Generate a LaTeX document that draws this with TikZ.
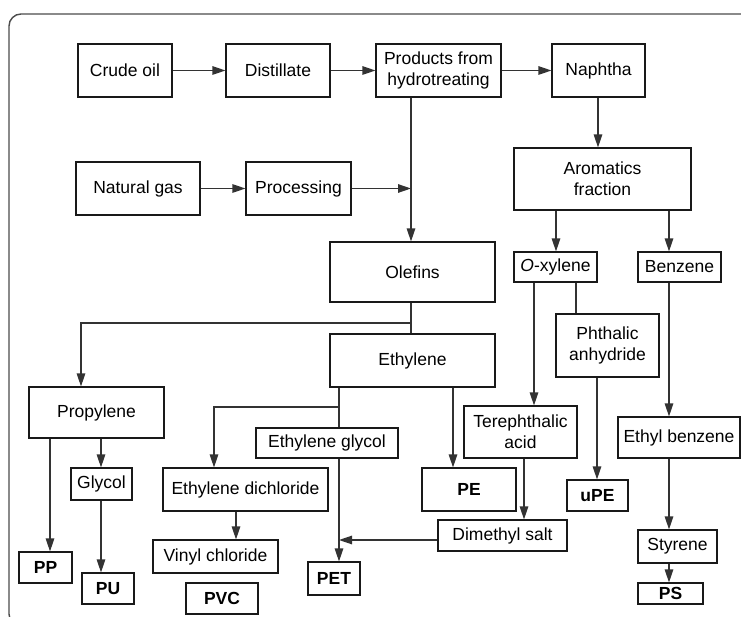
\documentclass[tikz,border=0pt]{standalone}
\usepackage{fontspec}
\setmainfont{Liberation Sans}
\usetikzlibrary{arrows.meta}
\tikzset{
  box/.style={draw=black!90, line width=1.1pt, inner sep=0pt, align=center,
    font=\fontsize{17.5}{21}\selectfont},
  link/.style={draw=black!80, line width=1.3pt},
  arr/.style={link, -{Triangle[length=13pt,width=8.5pt]}},
  frame/.style={draw=black!70, line width=1.4pt, rounded corners=12pt}
}
\newcommand\bx[6]{\node[box, minimum width={#4-#2}, minimum height={#5-#3}] (#1) at ({(#2+#4)/2},{(#3+#5)/2}) {#6};}
\begin{document}
\begin{tikzpicture}[x=1pt,y=-1pt]
\useasboundingbox (0,0) rectangle (741,617);
\clip (0,0) rectangle (741,617);
\draw[frame] (745,14) -- (9,14) -- (9,626) -- (40,626);
% nodes
\bx{crude}{78}{44}{172}{97}{Crude oil}
\bx{dist}{226}{44}{330}{97}{Distillate}
\bx{prod}{376}{44}{501}{97}{Products from\\hydrotreating}
\bx{naph}{552}{44}{645}{97}{Naphtha}
\bx{natg}{76}{162}{200}{215}{Natural gas}
\bx{proc}{246}{162}{351}{215}{Processing}
\bx{arom}{514}{148}{691}{210}{Aromatics\\fraction}
\bx{olef}{330}{242}{495}{302}{Olefins}
\bx{oxyl}{514}{252}{597}{282}{\textit{O}-xylene}
\bx{benz}{638}{252}{721}{282}{Benzene}
\bx{phth}{556}{314}{659}{377}{Phthalic\\anhydride}
\bx{eth}{330}{334}{495}{387}{Ethylene}
\bx{prop}{29}{387}{164}{438}{Propylene}
\bx{tere}{464}{406}{577}{458}{Terephthalic\\acid}
\bx{ebz}{618}{417}{740}{458}{Ethyl benzene}
\bx{eglyc}{256}{428}{398}{458}{Ethylene glycol}
\bx{glyc}{71}{468}{132}{500}{Glycol}
\bx{edc}{163}{468}{328}{511}{Ethylene dichloride}
\bx{pe}{422}{468}{516}{511}{\bfseries PE}
\bx{upe}{567}{480}{628}{511}{\bfseries uPE}
\bx{dms}{438}{520}{567}{551}{Dimethyl salt}
\bx{sty}{638}{530}{717}{563}{Styrene}
\bx{vinyl}{153}{540}{278}{573}{Vinyl chloride}
\bx{pp}{19}{552}{72}{583}{\bfseries PP}
\bx{pet}{308}{562}{360}{595}{\bfseries PET}
\bx{pu}{82}{573}{134}{604}{\bfseries PU}
\bx{pvc}{186}{583}{258}{614}{\bfseries PVC}
\bx{ps}{638}{583}{703}{604}{\bfseries PS}
% columns and rows
\coordinate (xO) at (411,0);
\coordinate (xP) at (81,0);
\coordinate (xE) at (339,0);
\coordinate (xD) at (214,0);
\coordinate (xPE) at (453,0);
\coordinate (xT) at (534,0);
\coordinate (xPh) at (576,0);
\coordinate (xDm) at (524,0);
\coordinate (xV) at (236,0);
\coordinate (xB) at (669,0);
\coordinate (xA) at (556,0);
\coordinate (xN) at (598,0);
\coordinate (xU) at (597,0);
\coordinate (xG) at (101,0);
\coordinate (xPP) at (50,0);
\coordinate (yJ) at (0,323);
\coordinate (yE) at (0,407);
\coordinate (yM) at (0,540);
% connectors
\draw[arr] (crude.east) -- (dist.west);
\draw[arr] (dist.east) -- (prod.west);
\draw[arr] (prod.east) -- (naph.west);
\draw[arr] (natg.east) -- (proc.west);
\draw[arr] (naph.south -| xN) -- (arom.north -| xN);
\draw[arr] (prod.south -| xO) -- (olef.north -| xO);
\draw[arr] (proc.east) -- (proc.east -| xO);
\draw[arr] (arom.south -| xA) -- (oxyl.north -| xA);
\draw[arr] (arom.south -| xB) -- (benz.north -| xB);
\draw[arr] (oxyl.south -| xT) -- (tere.north -| xT);
\draw[link] (oxyl.south -| xPh) -- (phth.north -| xPh);
\draw[link] (olef.south -| xO) -- (eth.north -| xO);
\draw[arr] (xO |- yJ) -| (prop.north -| xP);
\draw[link] (eth.south -| xE) -- (eglyc.north -| xE);
\draw[arr] (xE |- yE) -| (edc.north -| xD);
\draw[arr] (eglyc.south -| xE) -- (pet.north -| xE);
\draw[arr] (dms.west |- yM) -- (xE |- yM);
\draw[arr] (eth.south -| xPE) -- (pe.north -| xPE);
\draw[arr] (tere.south -| xDm) -- (dms.north -| xDm);
\draw[arr] (edc.south -| xV) -- (vinyl.north -| xV);
\draw[arr] (phth.south -| xU) -- (upe.north -| xU);
\draw[arr] (prop.south -| xG) -- (glyc.north -| xG);
\draw[arr] (prop.south -| xPP) -- (pp.north -| xPP);
\draw[arr] (glyc.south -| xG) -- (pu.north -| xG);
\draw[arr] (benz.south -| xB) -- (ebz.north -| xB);
\draw[arr] (ebz.south -| xB) -- (sty.north -| xB);
\draw[arr] (sty.south -| xB) -- (ps.north -| xB);
\end{tikzpicture}
\end{document}
